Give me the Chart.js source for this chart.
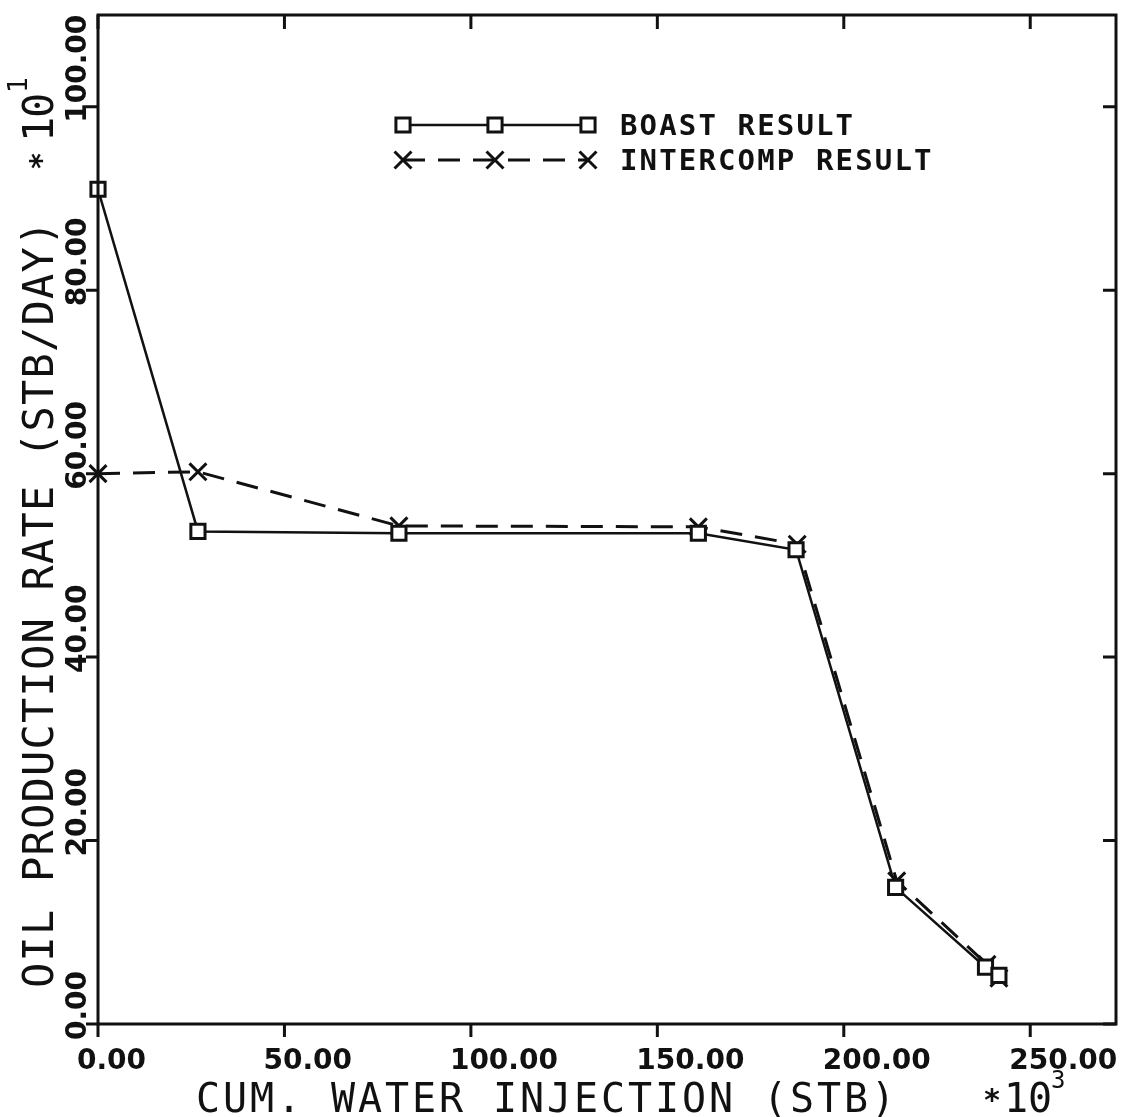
<!DOCTYPE html>
<html>
<head>
<meta charset="utf-8">
<title>Oil production rate x cum. water injection</title>
<script src="https://cdn.jsdelivr.net/npm/chart.js@4.4.1/dist/chart.umd.min.js"></script>
<style>
  html, body { margin: 0; padding: 0; background: #fff; }
  #caixa { width: 1131px; height: 1117px; position: relative; }
</style>
</head>
<body>
<div id="caixa"><canvas id="grafico"></canvas></div>
<script>
// Injecao acumulada de agua (STB * 10^3) e vazao de oleo (STB/DAY * 10^1)
const injBoast = [0, 26.8, 80.7, 161.0, 187.2, 213.9, 238.0, 241.6];
const vazaoBoast = [91.0, 53.7, 53.5, 53.5, 51.7, 14.9, 6.2, 5.3];
const injIntercomp = [0, 26.8, 80.7, 161.0, 187.5, 214.2, 238.4, 241.6];
const vazaoIntercomp = [60.0, 60.2, 54.3, 54.2, 52.3, 15.6, 6.5, 5.0];

const ticksX = [0, 50, 100, 150, 200, 250];
const ticksY = [0, 20, 40, 60, 80, 100];
const rotulosX = ["0.00", "50.00", "100.00", "150.00", "200.00", "250.00"];
const rotulosY = ["0.00", "20.00", "40.00", "60.00", "80.00", "100.00"];

const nomesSeries = ["BOAST RESULT", "INTERCOMP RESULT"];
const tituloX = "CUM. WATER INJECTION (STB)";
const tituloY = "OIL PRODUCTION RATE (STB/DAY)";

const PRETO = "#111";

function pares(xs, ys) {
  return xs.map((x, i) => ({ x: x, y: ys[i] }));
}

// escreve texto com passo fixo entre letras (fonte de plotter)
function escreverEspacado(ctx, texto, x, y, passo) {
  for (let i = 0; i < texto.length; i++) {
    ctx.fillText(texto[i], x + i * passo, y);
  }
}

const moldura = {
  id: "moldura",
  afterDraw(chart) {
    const ctx = chart.ctx;
    const area = chart.chartArea;
    const sx = chart.scales.x;
    const sy = chart.scales.y;
    ctx.save();
    ctx.strokeStyle = PRETO;
    ctx.fillStyle = PRETO;
    ctx.lineWidth = 3;
    ctx.setLineDash([]);
    ctx.strokeRect(area.left, area.top, area.right - area.left, area.bottom - area.top);

    // marcas dos eixos
    ctx.beginPath();
    ticksX.forEach(v => {
      const px = sx.getPixelForValue(v);
      ctx.moveTo(px, area.bottom); ctx.lineTo(px, area.bottom + 13);
      ctx.moveTo(px, area.top); ctx.lineTo(px, area.top + 14);
    });
    ticksY.forEach(v => {
      const py = sy.getPixelForValue(v);
      ctx.moveTo(area.left - 12, py); ctx.lineTo(area.left, py);
      ctx.moveTo(area.right - 13, py); ctx.lineTo(area.right, py);
    });
    ctx.stroke();

    // rotulos do eixo x
    ctx.font = "bold 28px 'DejaVu Sans'";
    ctx.textAlign = "left";
    ctx.textBaseline = "alphabetic";
    ticksX.forEach((v, i) => {
      const px = sx.getPixelForValue(v);
      ctx.fillText(rotulosX[i], px - 21, 1069);
    });

    // rotulos do eixo y (verticais)
    ticksY.forEach((v, i) => {
      const py = sy.getPixelForValue(v);
      ctx.save();
      ctx.translate(86, py + 16);
      ctx.rotate(-Math.PI / 2);
      ctx.fillText(rotulosY[i], 0, 0);
      ctx.restore();
    });

    // titulo do eixo x
    ctx.font = "40px 'DejaVu Sans Mono'";
    escreverEspacado(ctx, tituloX, 196, 1112, 27);
    ctx.font = "bold 30px 'DejaVu Sans Mono'";
    ctx.fillText("*", 983, 1110);
    ctx.font = "40px 'DejaVu Sans Mono'";
    escreverEspacado(ctx, "10", 1004, 1112, 24);
    ctx.font = "24px 'DejaVu Sans Mono'";
    ctx.fillText("3", 1051, 1088);

    // titulo do eixo y
    ctx.save();
    ctx.translate(53, 988);
    ctx.rotate(-Math.PI / 2);
    ctx.font = "42px 'DejaVu Sans Mono'";
    escreverEspacado(ctx, tituloY, 0, 0, 26.5);
    ctx.font = "bold 30px 'DejaVu Sans Mono'";
    ctx.fillText("*", 818, -2);
    ctx.font = "42px 'DejaVu Sans Mono'";
    escreverEspacado(ctx, "10", 846, 0, 24);
    ctx.font = "26px 'DejaVu Sans Mono'";
    ctx.fillText("1", 895, -26);
    ctx.restore();

    // legenda
    const yL = [125, 160];
    const xL = [403, 495, 588];
    ctx.lineWidth = 2.5;
    ctx.beginPath();
    ctx.moveTo(xL[0], yL[0]); ctx.lineTo(xL[2], yL[0]);
    ctx.stroke();
    ctx.lineWidth = 3;
    ctx.setLineDash([22, 13]);
    ctx.beginPath();
    ctx.moveTo(xL[0], yL[1]); ctx.lineTo(xL[2], yL[1]);
    ctx.stroke();
    ctx.setLineDash([]);
    ctx.fillStyle = "#fff";
    chart.data.datasets.forEach((ds, k) => {
      xL.forEach(x => {
        Chart.helpers.drawPoint(ctx, {
          pointStyle: ds.pointStyle,
          radius: ds.pointRadius,
          borderWidth: ds.pointBorderWidth
        }, x, yL[k]);
      });
    });
    ctx.fillStyle = PRETO;
    ctx.font = "bold 29px 'DejaVu Sans Mono'";
    ctx.textBaseline = "middle";
    nomesSeries.forEach((nome, k) => {
      escreverEspacado(ctx, nome, 620, yL[k] + 2, 19.6);
    });
    ctx.restore();
  }
};

new Chart(document.getElementById("grafico"), {
  type: "line",
  data: {
    datasets: [{
      label: nomesSeries[0],
      data: pares(injBoast, vazaoBoast),
      borderColor: PRETO,
      borderWidth: 2.5,
      pointStyle: "rect",
      pointRadius: 10,
      pointBorderWidth: 3,
      pointBorderColor: PRETO,
      pointBackgroundColor: "#fff",
      tension: 0,
      clip: false
    }, {
      label: nomesSeries[1],
      data: pares(injIntercomp, vazaoIntercomp),
      borderColor: PRETO,
      borderWidth: 3,
      borderDash: [22, 13],
      pointStyle: "crossRot",
      pointRadius: 12,
      pointBorderWidth: 3,
      pointBorderColor: PRETO,
      pointBackgroundColor: PRETO,
      tension: 0,
      clip: false
    }]
  },
  options: {
    responsive: true,
    maintainAspectRatio: false,
    animation: false,
    layout: { padding: { left: 98, right: 13, top: 9, bottom: 93 } },
    plugins: { legend: { display: false }, tooltip: { enabled: false } },
    scales: {
      x: { type: "linear", display: false, min: 0, max: 273 },
      y: { type: "linear", display: false, min: 0, max: 110 }
    }
  },
  plugins: [moldura]
});
</script>
</body>
</html>
